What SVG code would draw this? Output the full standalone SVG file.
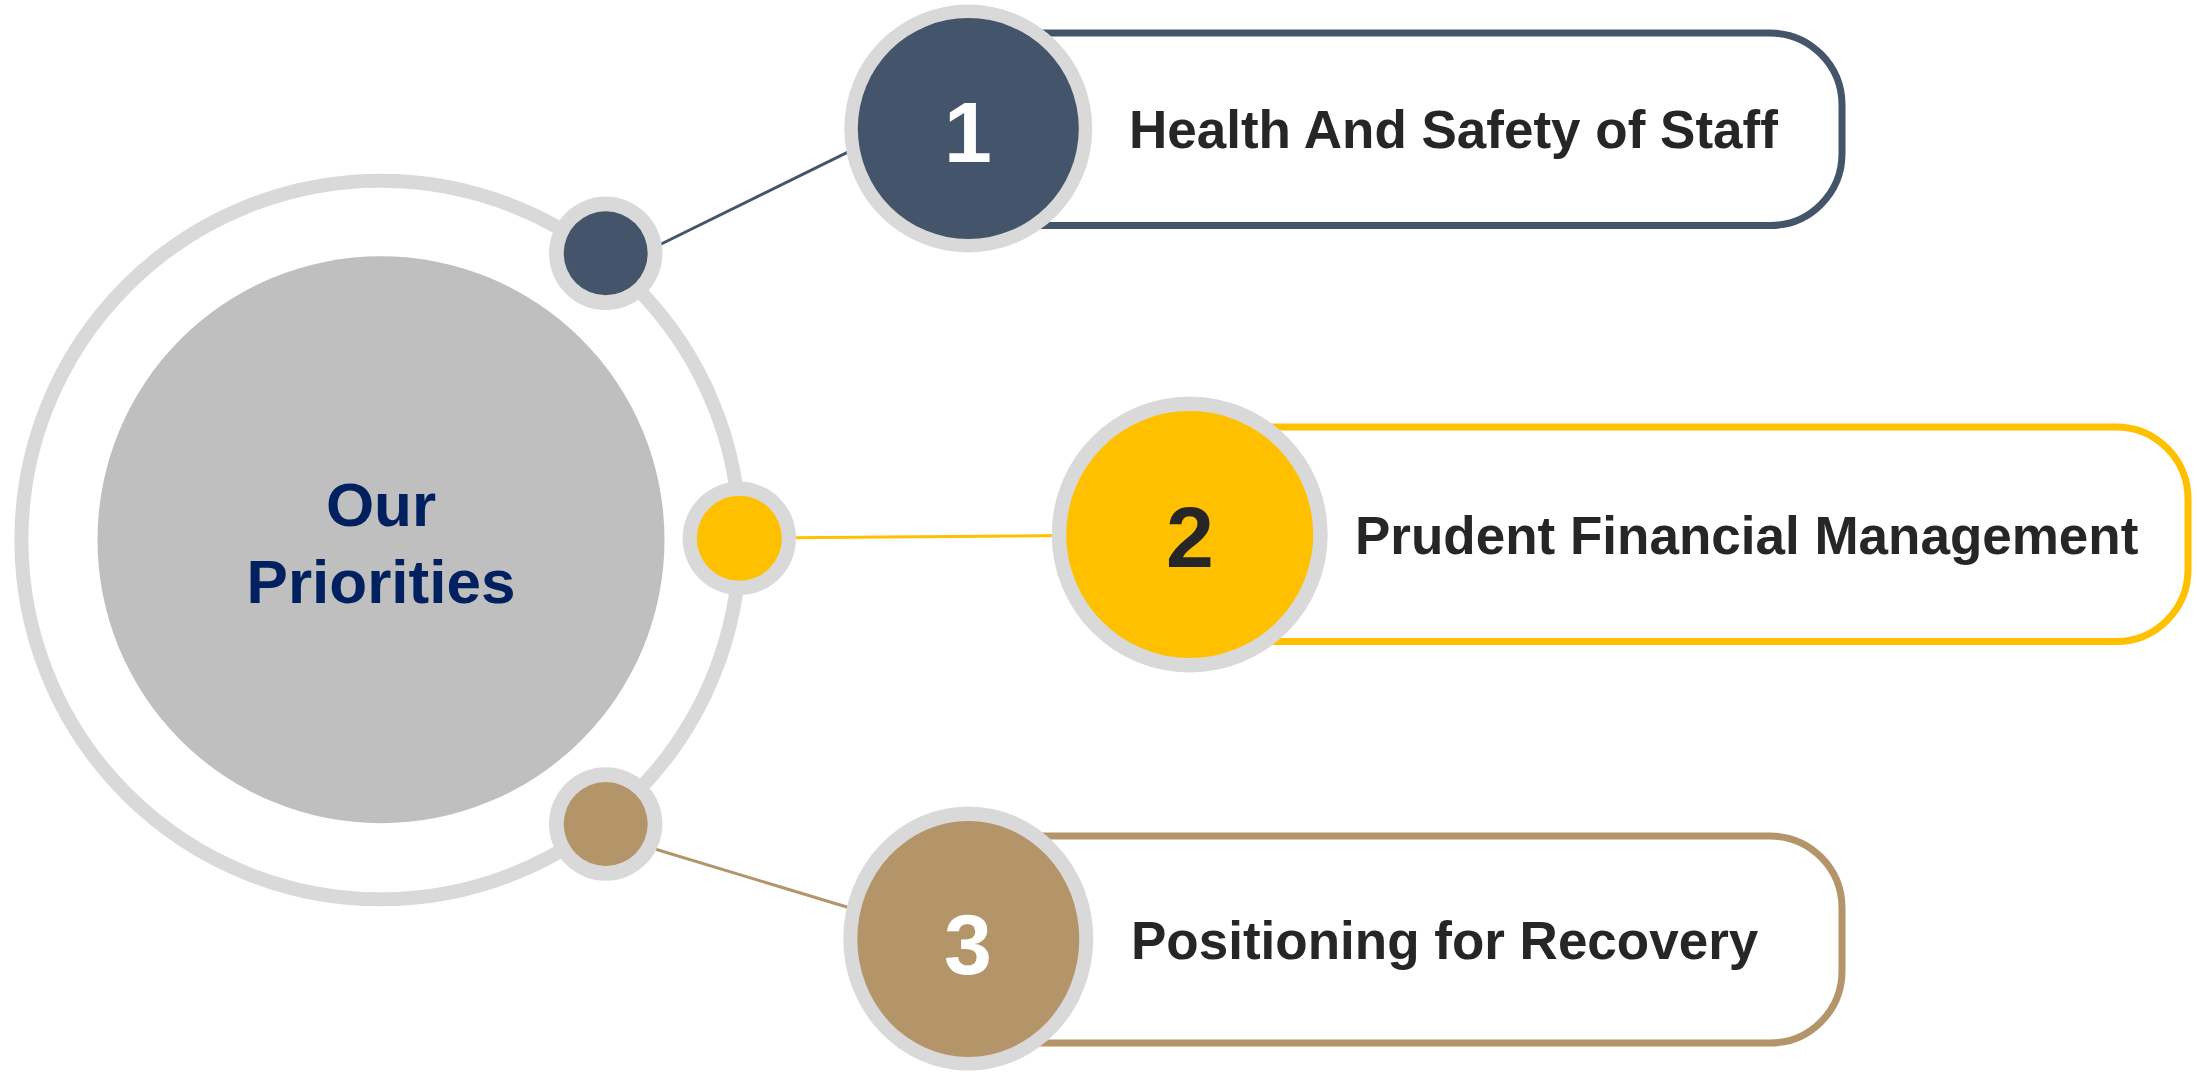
<svg xmlns="http://www.w3.org/2000/svg" width="2197" height="1072" viewBox="0 0 2197 1072">
  <style>
    .halo { fill: #D9D9D9; }
    .label { font-family: "Liberation Sans", Arial, sans-serif; font-weight: bold; font-size: 53px; fill: #262626; }
    .num { font-family: "Liberation Sans", Arial, sans-serif; font-weight: bold; font-size: 86px; text-anchor: middle; }
    .card { fill: #FFFFFF; stroke-width: 7; }
    .conn { stroke-width: 3; fill: none; }
  </style>
  <rect width="2197" height="1072" fill="#FFFFFF"/>

  <g id="hub">
    <circle cx="380.7" cy="540" r="359.3" fill="#FFFFFF" stroke="#D9D9D9" stroke-width="14"/>
    <circle cx="381" cy="539.7" r="283.5" fill="#BFBFBF"/>
    <text x="381" y="526" text-anchor="middle" font-family="Liberation Sans, Arial, sans-serif" font-weight="bold" font-size="62" fill="#002060">Our</text>
    <text x="381" y="602.5" text-anchor="middle" font-family="Liberation Sans, Arial, sans-serif" font-weight="bold" font-size="62" fill="#002060">Priorities</text>
  </g>

  <g id="connectors">
    <line class="conn" x1="650" y1="249.5" x2="860" y2="146.2" stroke="#44546A"/>
    <line class="conn" x1="790" y1="537.7" x2="1060" y2="535.6" stroke="#FFC000"/>
    <line class="conn" x1="645" y1="846" x2="860" y2="911" stroke="#B4956A"/>
  </g>

  <g id="dot-1">
    <circle class="halo" cx="605.7" cy="253.3" r="56.7"/>
    <circle cx="605.7" cy="253.3" r="42" fill="#44546A"/>
  </g>
  <g id="dot-2">
    <circle class="halo" cx="739.3" cy="538.3" r="56.7"/>
    <circle cx="739.3" cy="538.3" r="42.5" fill="#FFC000"/>
  </g>
  <g id="dot-3">
    <circle class="halo" cx="605.7" cy="824" r="56.7"/>
    <circle cx="605.7" cy="824" r="42" fill="#B4956A"/>
  </g>

  <g id="item-1">
    <rect class="card" x="968" y="33" width="874" height="192.5" rx="72" ry="72" stroke="#44546A"/>
    <circle class="halo" cx="968.3" cy="128.5" r="124"/>
    <circle cx="968.3" cy="128.5" r="110.5" fill="#44546A"/>
    <text class="num" x="968" y="161.7" fill="#FFFFFF">1</text>
    <text class="label" x="1129" y="148">Health And Safety of Staff</text>
  </g>

  <g id="item-2">
    <rect class="card" x="1190" y="427" width="998" height="214.5" rx="72" ry="72" stroke="#FFC000"/>
    <circle class="halo" cx="1189.7" cy="534.5" r="138"/>
    <circle cx="1189.7" cy="534.5" r="123.5" fill="#FFC000"/>
    <text class="num" x="1190" y="567" fill="#262626">2</text>
    <text class="label" x="1355" y="554">Prudent Financial Management</text>
  </g>

  <g id="item-3">
    <rect class="card" x="968" y="836" width="874" height="207" rx="72" ry="72" stroke="#B4956A"/>
    <ellipse class="halo" cx="968.3" cy="938.5" rx="125" ry="132"/>
    <ellipse cx="968.3" cy="939" rx="111" ry="118" fill="#B4956A"/>
    <text class="num" x="968" y="974" fill="#FFFFFF">3</text>
    <text class="label" x="1131" y="959">Positioning for Recovery</text>
  </g>
</svg>
